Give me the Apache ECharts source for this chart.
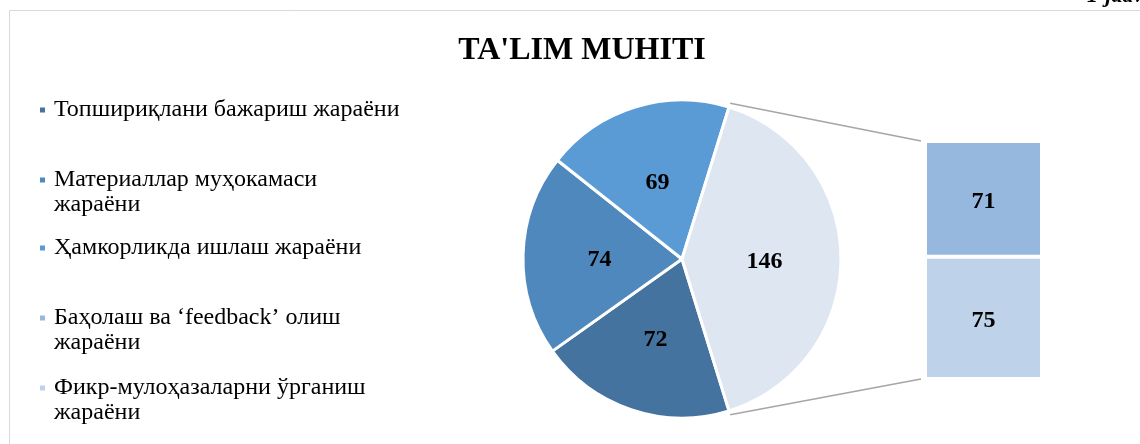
<!DOCTYPE html>
<html>
<head>
<meta charset="utf-8">
<script src="https://cdn.jsdelivr.net/npm/echarts@6/dist/echarts.min.js"></script>
<style>
  html, body { margin: 0; padding: 0; background: #fff; }
  #chart { width: 1140px; height: 444px; }
</style>
</head>
<body>
<div id="chart"></div>
<script>
// pie slices (main plot)
const pieNames = ['Топшириқлани бажариш жараёни', 'Материаллар муҳокамаси жараёни', 'Ҳамкорликда ишлаш жараёни'];
const pieValues = [72, 74, 69];
// "other" slice, broken out into the bar
const otherValue = 146;
const barNames = ['Баҳолаш ва ‘feedback’ олиш жараёни', 'Фикр-мулоҳазаларни ўрганиш жараёни'];
const barValues = [71, 75];

const pieColors = ['#44739f', '#4f88bc', '#5b9bd5'];
const otherColor = '#dee6f2';
const barColors = ['#97b8de', '#bed2ea'];

// legend labels, wrapped like the original (leading \n keeps the marker on the first line)
const legendLabels = {
  'Материаллар муҳокамаси жараёни': '\nМатериаллар муҳокамаси\nжараёни',
  'Баҳолаш ва ‘feedback’ олиш жараёни': '\nБаҳолаш ва ‘feedback’ олиш\nжараёни',
  'Фикр-мулоҳазаларни ўрганиш жараёни': '\nФикр-мулоҳазаларни ўрганиш\nжараёни'
};
const legendNames = pieNames.concat(barNames);
const legendLines = [110, 180, 248, 318, 388];

const serif = "'Times New Roman', 'Liberation Serif', serif";
const lh = 25;
const cx = 682, cy = 259, radius = 159;
const total = pieValues.reduce((a, b) => a + b, 0) + otherValue;
const halfOther = otherValue / total * 180;

const chart = echarts.init(document.getElementById('chart'));

const legends = legendNames.map((name, i) => {
  const wrapped = !!legendLabels[name];
  return {
    data: [name],
    left: 38,
    top: legendLines[i] - (wrapped ? 1.5 : 0.5) * lh,
    padding: 0,
    icon: 'rect',
    itemWidth: 7,
    itemHeight: 7,
    selectedMode: false,
    formatter: n => legendLabels[n] || n,
    textStyle: {
      fontFamily: serif,
      fontSize: 24,
      color: '#000',
      lineHeight: lh,
      padding: [0, 0, 0, 3]
    }
  };
});

const labelStyle = {
  show: true,
  fontFamily: serif,
  fontWeight: 'bold',
  fontSize: 24,
  color: '#000',
  offset: [0, 3]
};

const pieData = pieNames.map((n, i) => ({
  name: n, value: pieValues[i], itemStyle: { color: pieColors[i] }
}));
pieData.push({ name: 'other', value: otherValue, itemStyle: { color: otherColor } });

// stack from the bottom: last value sits at the bottom
const barSeries = barNames.map((n, i) => ({
  name: n,
  type: 'bar',
  stack: 'other',
  barWidth: '100%',
  data: [barValues[i]],
  itemStyle: { color: barColors[i], borderColor: '#fff', borderWidth: 2 },
  label: Object.assign({ position: 'inside' }, labelStyle),
  silent: true
})).reverse();

chart.setOption({
  animation: false,
  color: pieColors.concat(barColors),
  title: {
    text: "TA'LIM MUHITI",
    left: 577,
    textAlign: 'center',
    top: 30,
    textStyle: { fontFamily: serif, fontWeight: 'bold', fontSize: 32, color: '#000' }
  },
  legend: legends,
  grid: { left: 925, top: 141, width: 117, height: 238 },
  xAxis: { type: 'category', data: ['other'], show: false },
  yAxis: { type: 'value', min: 0, max: otherValue, show: false },
  series: [
    {
      type: 'pie',
      center: [cx, cy],
      radius: radius,
      startAngle: -halfOther,
      clockwise: true,
      silent: true,
      data: pieData,
      itemStyle: { borderColor: '#fff', borderWidth: 3 },
      label: Object.assign({ position: 'inside', formatter: '{c}' }, labelStyle),
      labelLine: { show: false }
    }
  ].concat(barSeries)
});

// connector lines from the "other" slice to the bar, and the chart frame
const a = halfOther * Math.PI / 180;
const topY = chart.convertToPixel({ yAxisIndex: 0 }, otherValue);
const botY = chart.convertToPixel({ yAxisIndex: 0 }, 0);
const barLeft = 925 - 4;
const lineStyle = { stroke: '#a6a6a6', lineWidth: 1.5 };

chart.setOption({
  graphic: [
    { type: 'rect', shape: { x: 9.5, y: 10.5, width: 1200, height: 500 },
      style: { fill: 'none', stroke: '#d9d9d9', lineWidth: 1 }, silent: true },
    { type: 'line', shape: { x1: cx + (radius + 4) * Math.cos(a), y1: cy - (radius + 4) * Math.sin(a), x2: barLeft, y2: topY }, style: lineStyle, silent: true },
    { type: 'line', shape: { x1: cx + (radius + 4) * Math.cos(a), y1: cy + (radius + 4) * Math.sin(a), x2: barLeft, y2: botY }, style: lineStyle, silent: true },
    { type: 'text', x: 1087, y: 7,
      style: { text: '1-jadval', fontFamily: serif, fontStyle: 'italic', fontWeight: 'bold', fontSize: 22, fill: '#000', verticalAlign: 'bottom' }, silent: true }
  ]
});
</script>
</body>
</html>
